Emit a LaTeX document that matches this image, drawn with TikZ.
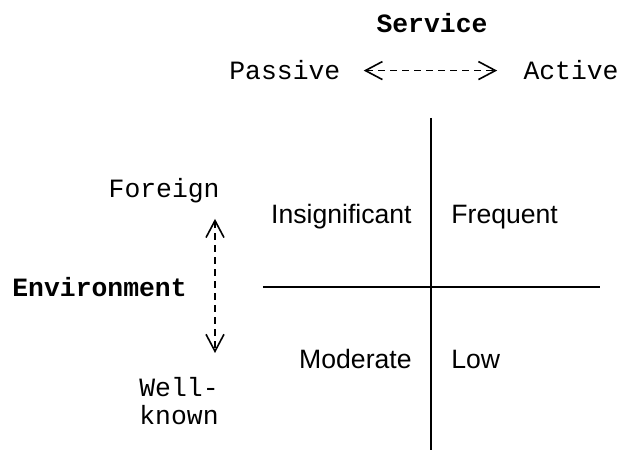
\documentclass[tikz,border=0pt]{standalone}
\usepackage{fontspec}
\setmonofont{Liberation Mono}
\setsansfont{Liberation Sans}
\usepackage{tikz}
\tikzset{
    axis/.style={draw, line width=1pt},
    quad/.style={font=\sffamily\fontsize{13.3}{15}\selectfont, inner sep=0pt},
    pole/.style={font=\ttfamily\fontsize{13.2}{14}\selectfont, inner sep=0pt},
    dimension/.style={font=\ttfamily\bfseries\fontsize{13.2}{15}\selectfont, inner sep=0pt},
    spanarrow/.style={{Straight Barb[length=8.5pt,width=9pt,line width=0.8pt]}-{Straight Barb[length=8.5pt,width=9pt,line width=0.8pt]}, dash pattern=on 3.5pt off 2.5pt, line width=0.65pt} }
\usetikzlibrary{arrows.meta, positioning}

\begin{document}
\begin{tikzpicture}[x=0.5pt, y=0.5pt]
			\useasboundingbox (0,0) rectangle (618,451);
			\coordinate (top) at (431,333);
			\coordinate (bottom) at (431,1);
			\coordinate (left) at (263,164);
			\coordinate (right) at (600,164);
			\coordinate (envaxis) at (215,164);
			% ----
			\node[quad, anchor=base east] (insig) at (412,227) {Insignificant};
			\node[quad, anchor=base west] (freq) at (451,227) {Frequent};
			\node[quad, anchor=base east] (mod) at (412,82) {Moderate};
			\node[quad, anchor=base west] (low) at (451,82) {Low};
			\node[dimension] (service) at (432,428) {Service};
			\node[pole, anchor=base west] (passive) at (229,371) {Passive};
			\node[pole, anchor=base east] (active) at (619,371) {Active};
			\node[dimension, anchor=west] (env) at (12,164) {Environment};
			\node[pole, anchor=base east] (foreign) at (220,253) {Foreign};
			\node[pole, anchor=north west, align=left] (wellknown) at (139,74) {Well-\\known};
			% ----
			\draw[axis] (top) -- (bottom);
			\draw[axis] (left) -- (right);

			\draw[spanarrow, shorten <=11.5pt, shorten >=13pt] (passive.east) -- (active.west);
			\draw[spanarrow, shorten <=7.5pt, shorten >=12pt] (foreign.south -| envaxis) -- (wellknown.north -| envaxis);
\end{tikzpicture}
\end{document}
